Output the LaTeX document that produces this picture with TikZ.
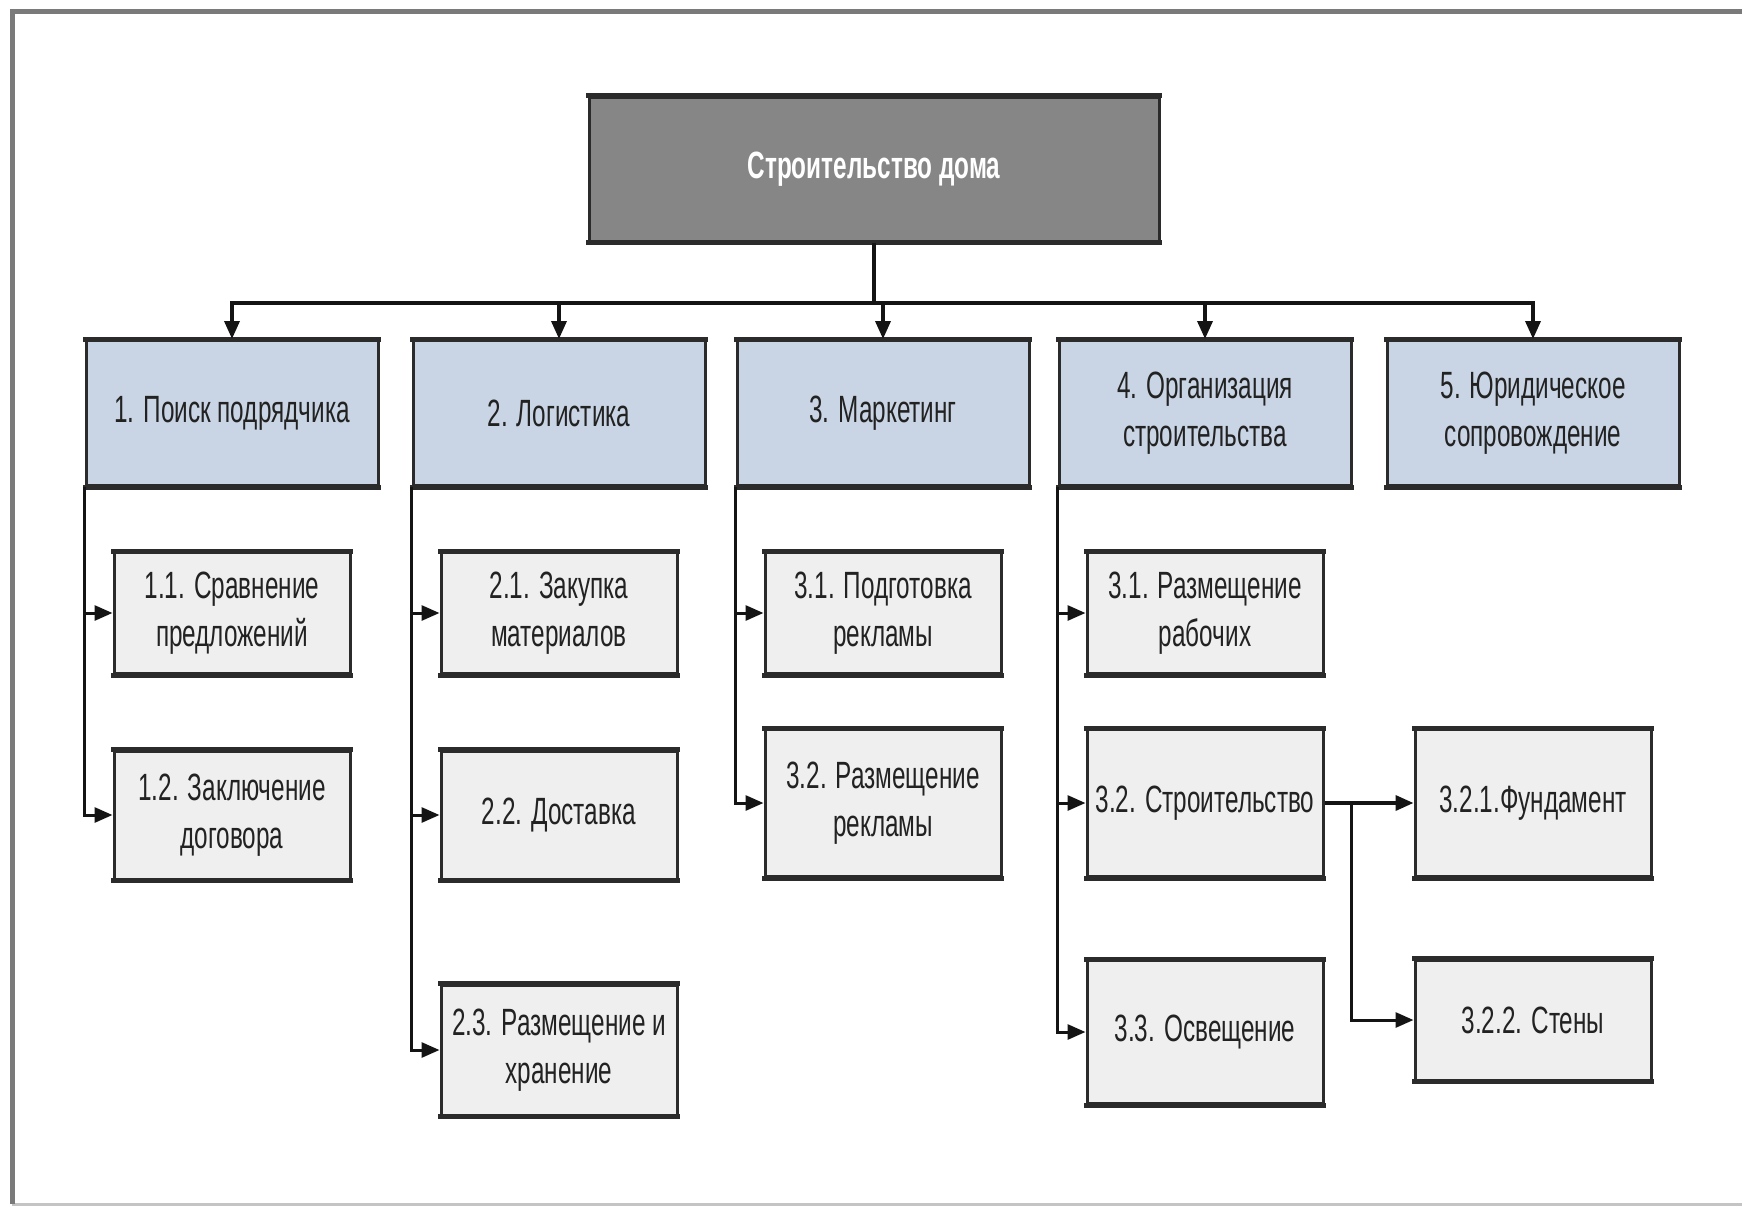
\documentclass[tikz,border=0pt]{standalone}
\usepackage{fontspec}
\setmainfont{Liberation Sans}[FakeStretch=0.64]
\usetikzlibrary{arrows.meta}

\definecolor{framegray}{HTML}{7A7A7A}
\definecolor{framelight}{HTML}{C4C4C4}
\definecolor{rootfill}{HTML}{868686}
\definecolor{mainfill}{HTML}{C9D5E4}
\definecolor{subfill}{HTML}{EFEFEF}
\definecolor{edgecol}{HTML}{2B2B2B}
\definecolor{wirecol}{HTML}{141414}
\definecolor{textcol}{HTML}{222222}

\begin{document}
\begin{tikzpicture}[
  x=1pt, y=-1pt,
  box/.style={draw=edgecol, line width=3pt, align=center, inner sep=2pt,
              font=\fontsize{38}{48}\selectfont, text=textcol},
  rootbox/.style={box, fill=rootfill, minimum width=570pt, minimum height=144pt,
                  text=white, font=\fontsize{38}{48}\selectfont\bfseries},
  mainbox/.style={box, fill=mainfill, minimum width=292pt, minimum height=145pt},
  subbox/.style={box, fill=subfill, minimum width=236pt},
  rim/.style={draw=edgecol, line width=5pt},
  wire/.style={draw=wirecol, line width=3.5pt},
  link/.style={wire, -{Triangle[length=18pt,width=15pt]}}
]
\useasboundingbox (0,0) rectangle (1742,1207);

% page frame, open on the right
\draw[framelight, line width=3pt] (12,1204) -- (1742,1204);
\draw[framegray, line width=5pt] (1742,12) -- (12,12) -- (12,1204);

% root
\node[rootbox] (root) at (874,169) {Строительство дома};

% first level
\node[mainbox] (n1) at (232,413) {1. Поиск подрядчика};
\node[mainbox] (n2) at (559,413) {2. Логистика};
\node[mainbox] (n3) at (883,413) {3. Маркетинг};
\node[mainbox] (n4) at (1205,413) {4. Организация\\строительства};
\node[mainbox] (n5) at (1533,413) {5. Юридическое\\сопровождение};

% second level
\node[subbox, minimum height=121pt] (n11) at (232,613) {1.1. Сравнение\\предложений};
\node[subbox, minimum height=128pt] (n12) at (232,815) {1.2. Заключение\\договора};

\node[subbox, minimum height=121pt] (n21) at (559,613) {2.1. Закупка\\материалов};
\node[subbox, minimum height=128pt] (n22) at (559,815) {2.2. Доставка};
\node[subbox, minimum height=130pt] (n23) at (559,1050) {2.3. Размещение и\\хранение};

\node[subbox, minimum height=121pt] (n31) at (883,613) {3.1. Подготовка\\рекламы};
\node[subbox, minimum height=147pt] (n32) at (883,803) {3.2. Размещение\\рекламы};

\node[subbox, minimum height=121pt] (n41) at (1205,613) {3.1. Размещение\\рабочих};
\node[subbox, minimum height=147pt] (n42) at (1205,803) {3.2. Строительство};
\node[subbox, minimum height=143pt] (n43) at (1205,1032) {3.3. Освещение};

% third level
\node[subbox, minimum height=147pt] (n421) at (1533,803) {3.2.1.Фундамент};
\node[subbox, minimum height=120pt] (n422) at (1533,1020) {3.2.2. Стены};

% heavier top and bottom edges of every box
\foreach \n in {root,n1,n2,n3,n4,n5,n11,n12,n21,n22,n23,n31,n32,n41,n42,n43,n421,n422}
  \draw[rim] ([xshift=-1.5pt]\n.north west) -- ([xshift=1.5pt]\n.north east)
             ([xshift=-1.5pt]\n.south west) -- ([xshift=1.5pt]\n.south east);

% root to first level
\coordinate (bus) at (874,303);
\draw[wire] (root.south) -- (bus);
\foreach \n in {n1,n2,n3,n4,n5}
  \draw[link] (bus) -| (\n.north);

% first level to second level
\foreach \p/\c in {n1/n11,n1/n12,n2/n21,n2/n22,n2/n23,n3/n31,n3/n32,n4/n41,n4/n42,n4/n43}
  \draw[link, line width=3pt] (\p.south west) |- (\c.west);

% second level to third level
\coordinate (split) at (1351,803);
\draw[link] (n42.east) -- (n421.west);
\draw[link, line width=3pt] (split) |- (n422.west);
\end{tikzpicture}
\end{document}
